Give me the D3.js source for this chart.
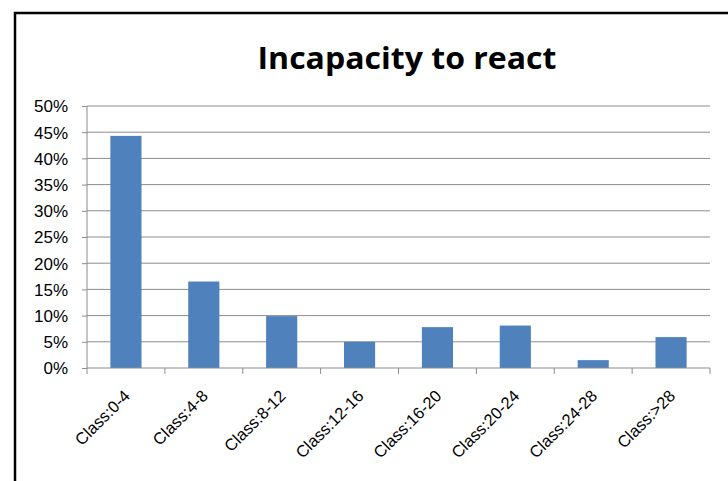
<!DOCTYPE html>
<html><head><meta charset="utf-8">
<script src="https://cdn.jsdelivr.net/npm/d3@7"></script>
<style>body{margin:0;background:#fff}svg{display:block}</style>
</head><body>
<script>
const categories = ["Class:0-4","Class:4-8","Class:8-12","Class:12-16","Class:16-20","Class:20-24","Class:24-28","Class:>28"];
const values = [0.443, 0.165, 0.099, 0.050, 0.078, 0.081, 0.015, 0.059];
const yTicks = [0,0.05,0.10,0.15,0.20,0.25,0.30,0.35,0.40,0.45,0.50];
const title = "Incapacity to react";

const W=728,H=481;
const svg=d3.select("body").append("svg").attr("width",W).attr("height",H);
svg.append("rect").attr("width",W).attr("height",H).attr("fill","#fff");
// frame
svg.append("path").attr("d","M15,481 L15,13 L728,13").attr("fill","none").attr("stroke","#000").attr("stroke-width",2.5);

const L=87,R=710,T=106,B=368;
const x=d3.scaleBand().domain(categories).range([L,R]).paddingInner(0.6).paddingOuter(0.3);
const y=d3.scaleLinear().domain([0,0.5]).range([B,T]);

svg.append("text").attr("x",407).attr("y",69).attr("text-anchor","middle")
  .attr("font-family","Open Sans, sans-serif").attr("font-weight","bold").attr("font-size",30)
  .attr("textLength",299).attr("lengthAdjust","spacingAndGlyphs").attr("fill","#000").text(title);

// gridlines
svg.append("g").selectAll("line").data(yTicks.slice(1)).join("line")
  .attr("x1",L).attr("x2",R).attr("y1",d=>y(d)).attr("y2",d=>y(d))
  .attr("stroke","#8c8c8c").attr("stroke-width",1);

// bars
svg.append("g").selectAll("rect").data(values).join("rect")
  .attr("x",(d,i)=>x(categories[i])).attr("width",x.bandwidth())
  .attr("y",d=>y(d)).attr("height",d=>B-y(d)).attr("fill","#4f81bd");

// y axis
const ya=svg.append("g").attr("transform",`translate(${L},0)`)
  .call(d3.axisLeft(y).tickValues(yTicks).tickFormat(d3.format(".0%")).tickSize(5).tickPadding(14));
ya.select(".domain").attr("stroke","#8c8c8c").attr("d",`M0,${T}V${B}`);
ya.selectAll(".tick line").attr("stroke","#8c8c8c");
ya.selectAll("text").attr("font-family","Liberation Sans, sans-serif").attr("font-size",17).attr("fill","#000").attr("dy","0.35em");

// x axis
const step=x.step();
const xg=svg.append("g").attr("transform",`translate(0,${B})`);
xg.append("line").attr("x1",L).attr("x2",R).attr("stroke","#8c8c8c");
xg.selectAll(".tk").data(d3.range(categories.length+1)).join("line")
  .attr("x1",i=>L+i*step).attr("x2",i=>L+i*step).attr("y1",0).attr("y2",6).attr("stroke","#8c8c8c");
xg.selectAll("text").data(categories).join("text")
  .attr("transform",d=>`translate(${x(d)+x.bandwidth()/2+1},${25}) rotate(-45)`)
  .attr("text-anchor","end").attr("dy","0.35em")
  .attr("font-family","Liberation Sans, sans-serif").attr("font-size",16.5).attr("fill","#000").text(d=>d);
</script>
</body></html>
